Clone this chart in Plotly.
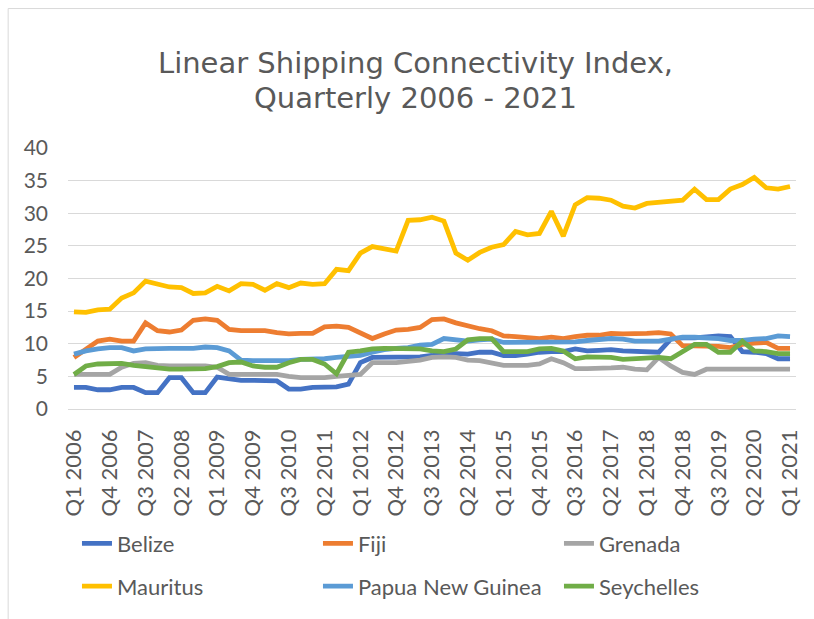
import plotly.graph_objects as go

quarters = [f"Q{q} {y}" for y in range(2006, 2022) for q in range(1, 5)][:61]
tick_labels = quarters[::3]

belize = [3.3, 3.3, 2.95, 2.95, 3.3, 3.3, 2.5, 2.5, 4.8, 4.8, 2.5, 2.5, 4.9, 4.6, 4.4, 4.4,
          4.3, 4.3, 3.05, 3.05, 3.3, 3.4, 3.4, 3.8, 7.1, 7.9, 7.9, 7.9, 7.9, 8.0, 8.2, 8.5,
          8.5, 8.4, 8.7, 8.7, 8.2, 8.2, 8.4, 8.7, 8.8, 8.8, 9.2, 8.9, 9.0, 9.1, 8.9, 8.8,
          8.8, 8.7, 10.7, 10.9, 10.9, 11.0, 11.2, 11.1, 8.8, 8.7, 8.5, 7.7, 7.7]
fiji = [7.9, 9.2, 10.4, 10.7, 10.4, 10.4, 13.2, 12.0, 11.8, 12.1, 13.6, 13.8, 13.6, 12.2, 12.0, 12.0,
        12.0, 11.7, 11.5, 11.6, 11.6, 12.6, 12.7, 12.5, 11.6, 10.8, 11.5, 12.1, 12.2, 12.5, 13.7, 13.8,
        13.2, 12.7, 12.3, 12.0, 11.2, 11.1, 10.9, 10.8, 11.0, 10.8, 11.1, 11.3, 11.3, 11.6, 11.5, 11.5,
        11.6, 11.7, 11.5, 9.7, 9.7, 9.6, 9.6, 9.4, 9.9, 10.1, 10.2, 9.3, 9.3]
grenada = [5.3, 5.3, 5.3, 5.3, 6.4, 7.0, 7.1, 6.7, 6.6, 6.6, 6.6, 6.6, 6.4, 5.3, 5.3, 5.3,
           5.3, 5.3, 5.0, 4.8, 4.8, 4.8, 5.0, 5.1, 5.3, 7.1, 7.1, 7.1, 7.3, 7.5, 7.9, 8.0,
           7.9, 7.5, 7.4, 7.0, 6.7, 6.7, 6.7, 6.9, 7.7, 7.1, 6.2, 6.2, 6.2, 6.3, 6.4, 6.1,
           6.0, 7.9, 6.6, 5.6, 5.3, 6.1, 6.1, 6.1, 6.1, 6.1, 6.1, 6.1, 6.1]
mauritus = [14.9, 14.8, 15.2, 15.3, 17.0, 17.8, 19.6, 19.2, 18.7, 18.6, 17.7, 17.8, 18.8, 18.1, 19.2, 19.1,
            18.2, 19.2, 18.6, 19.3, 19.1, 19.2, 21.4, 21.2, 23.9, 24.9, 24.6, 24.2, 28.9, 29.0, 29.4, 28.8,
            23.9, 22.8, 24.0, 24.8, 25.2, 27.2, 26.7, 26.9, 30.3, 26.5, 31.3, 32.4, 32.3, 32.0, 31.1, 30.8,
            31.5, 31.7, 31.9, 32.0, 33.7, 32.1, 32.1, 33.7, 34.4, 35.5, 33.9, 33.7, 34.1]
png = [8.4, 8.9, 9.2, 9.4, 9.4, 8.9, 9.2, 9.3, 9.3, 9.3, 9.3, 9.5, 9.4, 8.9, 7.5, 7.4,
       7.4, 7.3, 7.4, 7.6, 7.6, 7.7, 7.9, 8.0, 8.2, 8.7, 9.1, 9.3, 9.4, 9.8, 9.9, 10.8,
       10.6, 10.4, 10.6, 10.7, 10.2, 10.2, 10.2, 10.2, 10.3, 10.2, 10.3, 10.5, 10.7, 10.8, 10.7, 10.4,
       10.4, 10.4, 10.7, 11.0, 11.0, 10.9, 10.8, 10.5, 10.5, 10.7, 10.8, 11.2, 11.1]
seychelles = [5.3, 6.6, 6.9, 7.0, 7.0, 6.7, 6.5, 6.2, 6.1, 6.1, 6.1, 6.2, 6.5, 7.1, 7.2, 6.6,
              6.4, 6.4, 7.1, 7.6, 7.6, 6.9, 5.4, 8.7, 8.9, 9.2, 9.3, 9.3, 9.3, 9.2, 8.9, 8.8,
              9.2, 10.6, 10.8, 10.8, 8.8, 8.8, 8.8, 9.2, 9.3, 8.9, 7.7, 8.0, 8.0, 7.9, 7.6, 7.7,
              7.8, 7.9, 7.7, 8.7, 9.9, 9.9, 8.7, 8.7, 10.4, 8.9, 8.8, 8.5, 8.5]

series_names = ["Belize", "Fiji", "Grenada", "Mauritus", "Papua New Guinea", "Seychelles"]
series_values = [belize, fiji, grenada, mauritus, png, seychelles]
colors = ["#4472C4", "#ED7D31", "#A5A5A5", "#FFC000", "#5B9BD5", "#70AD47"]
legend_ids = ["legend", "legend", "legend", "legend2", "legend2", "legend2"]
title_lines = ["Linear Shipping Connectivity Index,", "Quarterly 2006 - 2021"]

FONT = "Lato"
TXT = "#595959"

fig = go.Figure()
for name, vals, col, lg in zip(series_names, series_values, colors, legend_ids):
    fig.add_trace(go.Scatter(x=quarters, y=vals, name=name, mode="lines",
                             line=dict(color=col, width=4.8), legend=lg))

W, H = 814, 619
L, R, T, B = 68, 16, 148, 209
pw, ph = W - L - R, H - T - B

def px(x):
    return (x - L) / pw

def py(y):
    return (H - B - y) / ph

legend_common = dict(orientation="h", xanchor="left", yanchor="middle",
                     font=dict(family=FONT, size=22, color=TXT),
                     entrywidth=196, entrywidthmode="pixels",
                     bgcolor="rgba(0,0,0,0)", borderwidth=0)

annotations = [dict(text=t, xref="paper", yref="paper", x=px(416), y=py(yy),
                    xanchor="center", yanchor="middle", showarrow=False, borderpad=0,
                    font=dict(family="DejaVu Sans", size=29, color=TXT))
               for t, yy in zip(title_lines, [63, 98])]

fig.update_layout(
    width=W, height=H,
    margin=dict(l=L, r=R, t=T, b=B),
    paper_bgcolor="white", plot_bgcolor="white",
    annotations=annotations,
    xaxis=dict(type="category", categoryorder="array", categoryarray=quarters,
               range=[-0.5, len(quarters) - 0.5],
               tickmode="array", tickvals=tick_labels, ticktext=tick_labels,
               tickangle=-90, tickfont=dict(family=FONT, size=22, color=TXT),
               ticklabelstandoff=15,
               showgrid=False, showline=False, zeroline=False, ticks=""),
    yaxis=dict(range=[0, 40], tickvals=[0, 5, 10, 15, 20, 25, 30, 35, 40],
               tickfont=dict(family=FONT, size=21, color=TXT),
               showgrid=True, gridcolor="#D9D9D9", gridwidth=1,
               zeroline=True, zerolinecolor="#D9D9D9", zerolinewidth=1,
               showline=False, ticks="", ticklabelstandoff=19),
    legend=dict(x=px(77), y=py(545), **legend_common),
    legend2=dict(x=px(77), y=py(588), **legend_common),
    shapes=[dict(type="rect", xref="paper", yref="paper",
                 x0=px(8), x1=px(830), y0=py(640), y1=py(8),
                 line=dict(color="#D9D9D9", width=1), fillcolor="rgba(0,0,0,0)", layer="below")],
)

fig.write_html("out.html", config={"displayModeBar": False},
               post_script="document.body.style.margin='0';")
